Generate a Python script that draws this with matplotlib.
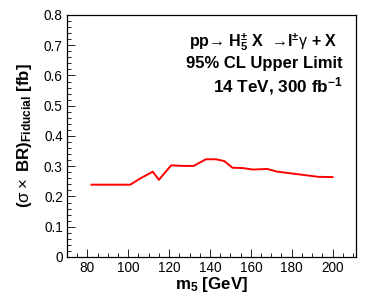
import matplotlib
matplotlib.use("Agg")
import matplotlib.pyplot as plt
from matplotlib.ticker import MultipleLocator, FuncFormatter

plt.rcParams['font.family'] = ['Liberation Sans', 'DejaVu Sans']
plt.rcParams['mathtext.fontset'] = 'custom'
plt.rcParams['mathtext.rm'] = 'Liberation Sans:bold'
plt.rcParams['mathtext.bf'] = 'Liberation Sans:bold'
plt.rcParams['mathtext.it'] = 'Liberation Sans:italic:bold'
plt.rcParams['mathtext.sf'] = 'Liberation Sans'
plt.rcParams['mathtext.default'] = 'rm'

mass = [82, 101, 106, 112, 115, 121, 127, 132, 138, 143, 147, 151, 156, 161, 168, 173, 179, 186, 193, 200]
limit = [0.239, 0.239, 0.260, 0.282, 0.255, 0.303, 0.301, 0.301, 0.323, 0.323, 0.317, 0.295,
         0.294, 0.289, 0.291, 0.282, 0.277, 0.271, 0.265, 0.264]

fig = plt.figure(figsize=(3.74, 2.99), dpi=100)
ax = fig.add_axes([0.179, 0.1405, 0.773, 0.8095])
ax.plot(mass, limit, color='red', lw=1.4)
ax.set_xlim(70, 211.5)
ax.set_ylim(0, 0.8)
ax.xaxis.set_major_locator(MultipleLocator(20))
ax.xaxis.set_minor_locator(MultipleLocator(5))
ax.yaxis.set_major_locator(MultipleLocator(0.1))
ax.yaxis.set_minor_locator(MultipleLocator(0.02))
ax.yaxis.set_major_formatter(FuncFormatter(lambda v, p: '0' if abs(v) < 1e-9 else f'{v:.1f}'))
ax.tick_params(which='both', direction='in', top=False, right=False, labelsize=9.8, pad=3)
ax.tick_params(which='major', length=6, width=0.6)
ax.tick_params(which='minor', length=3, width=0.6)
for s in ax.spines.values():
    s.set_linewidth(0.9)

ax.set_xlabel(r"m$_5$ [GeV]", fontsize=12.2, fontweight='bold', labelpad=0)
ax.set_ylabel(r"($\mathsf{\sigma\times}$ BR)$_{\mathrm{Fiducial}}$ [fb]", fontsize=12.2,
              fontweight='bold', labelpad=7)

ax.text(0.935, 0.868, "pp$\\mathsf{\u2192}$ H$_5^{\\pm}$ X  $\\mathsf{\u2192}$l$^{\\pm}\\mathsf{\\gamma}$ + X",
        transform=ax.transAxes, ha='right', va='baseline', fontsize=11.5, fontweight='bold')
ax.text(0.955, 0.781, "95% CL Upper Limit", transform=ax.transAxes, ha='right', va='baseline',
        fontsize=12, fontweight='bold')
ax.text(0.955, 0.682, r"14 TeV, 300 fb$^{-1}$", transform=ax.transAxes, ha='right', va='baseline',
        fontsize=12.3, fontweight='bold')

fig.savefig("out.png", dpi=100)
